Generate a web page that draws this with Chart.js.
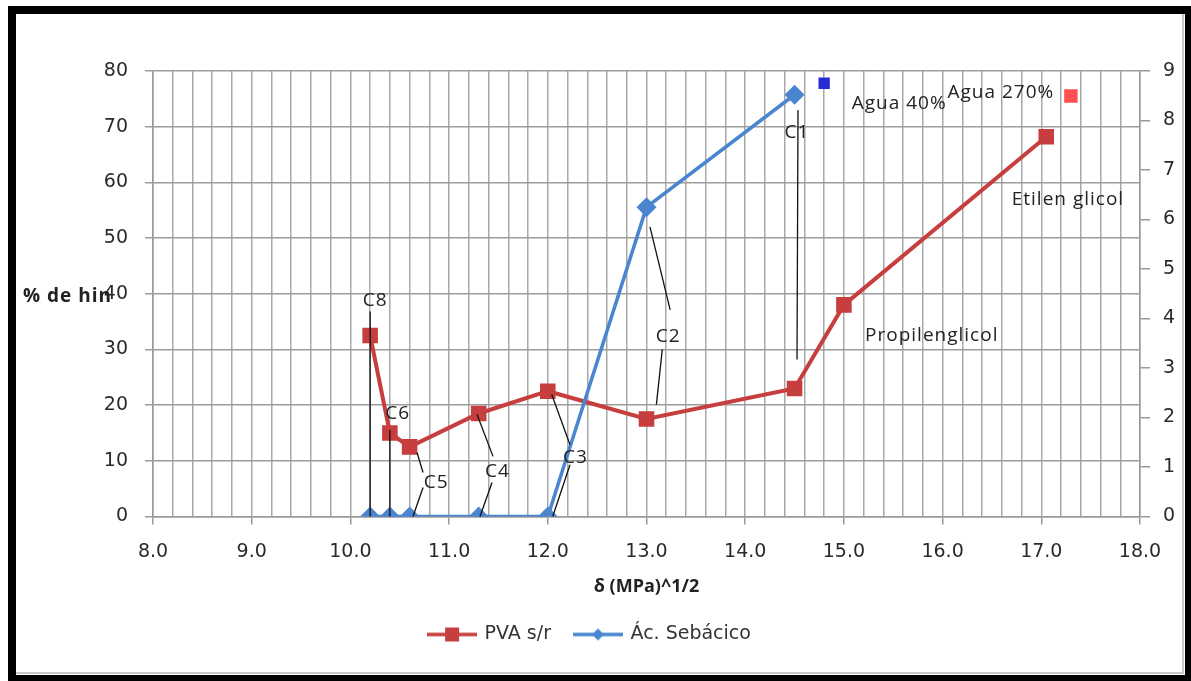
<!DOCTYPE html>
<html>
<head>
<meta charset="utf-8">
<script src="https://cdn.jsdelivr.net/npm/chart.js@4/dist/chart.umd.min.js"></script>
<style>
  html, body { margin: 0; padding: 0; background: #ffffff; }
  #wrap { width: 1191px; height: 681px; position: relative; }
</style>
</head>
<body>
<div id="wrap"><canvas id="chart" width="1191" height="681"></canvas></div>
<script>
// Solubility parameter δ (MPa)^1/2 of each solvent
const deltaPVA = [10.2, 10.4, 10.6, 11.3, 12.0, 13.0, 14.5, 15.0, 17.05];
// Swelling of PVA s/r (%), left axis
const swellPVA = [32.5, 15, 12.5, 18.5, 22.5, 17.5, 23, 38, 68.2];
// Sebacic acid series, right axis
const deltaSeb = [10.2, 10.4, 10.6, 11.3, 12.0, 13.0, 14.5];
const valueSeb = [0, 0, 0, 0, 0, 6.25, 8.52];
// Water points
const deltaWater40 = [14.8];
const swellWater40 = [77.8];
const deltaWater270 = [17.3];
const swellWater270 = [75.5];
// Axis ticks
const xMin = 8, xMax = 18, xMinorStep = 0.2;
const yLeftMax = 80, yLeftStep = 10;
const yRightMax = 9, yRightStep = 1;

const RED = '#C63F3E';
const BLUE = '#4A86CF';
const GRID = '#a8a8a8';

const toPoints = (xs, ys) => xs.map((x, i) => ({ x, y: ys[i] }));
const isMajor = v => Math.abs(v - Math.round(v)) < 1e-6;

// Small line + marker icons for the legend entries
function legendIcon(color, shape) {
  const c = document.createElement('canvas');
  c.width = 50; c.height = 18;
  const g = c.getContext('2d');
  g.strokeStyle = color; g.lineWidth = 3.5;
  g.beginPath(); g.moveTo(0, 9); g.lineTo(50, 9); g.stroke();
  g.fillStyle = color;
  if (shape === 'rect') {
    g.fillRect(18, 2, 14, 14);
  } else {
    g.beginPath(); g.moveTo(25, 3); g.lineTo(31, 9); g.lineTo(25, 15); g.lineTo(19, 9); g.closePath(); g.fill();
  }
  return c;
}
const icons = [legendIcon(RED, 'rect'), legendIcon(BLUE, 'diamond')];

// Solvent labels and their leader lines, in data units of x / left y axis
const notes = [
  { t: 'C8', x: 10.25, y: 38.7 },
  { t: 'C6', x: 10.48, y: 18.4 },
  { t: 'C5', x: 10.87, y: 6.1 },
  { t: 'C4', x: 11.49, y: 8.1 },
  { t: 'C3', x: 12.28, y: 10.6 },
  { t: 'C2', x: 13.22, y: 32.3 },
  { t: 'C1', x: 14.525, y: 68.9 },
  { t: 'Propilenglicol', x: 15.89, y: 32.5 },
  { t: 'Etilen glicol', x: 17.27, y: 56.9 },
  { t: 'Agua 40%', x: 15.56, y: 74.1 },
  { t: 'Agua 270%', x: 16.59, y: 76.2 }
];
const leaders = [
  [10.2, 36.8, 10.2, 0],
  [10.4, 15.6, 10.4, 0],
  [10.675, 11.5, 10.736, 7.9], [10.736, 5.2, 10.634, 0],
  [11.283, 18.3, 11.445, 10.8], [11.435, 6.1, 11.313, 0],
  [12.04, 21.9, 12.225, 12.9], [12.225, 9.3, 12.05, 0],
  [13.035, 52.0, 13.24, 37.1], [13.16, 30.0, 13.1, 20.1],
  [14.535, 73.0, 14.525, 28.2]
];

const notesPlugin = {
  id: 'notes',
  afterDatasetsDraw(chart) {
    const { ctx, scales: { x, y } } = chart;
    ctx.save();
    ctx.strokeStyle = '#111';
    ctx.lineWidth = 1.3;
    leaders.forEach(([x0, y0, x1, y1]) => {
      ctx.beginPath();
      ctx.moveTo(x.getPixelForValue(x0), y.getPixelForValue(y0));
      ctx.lineTo(x.getPixelForValue(x1), y.getPixelForValue(y1));
      ctx.stroke();
    });
    ctx.font = '19px "Open Sans"';
    ctx.letterSpacing = '1px';
    ctx.fillStyle = '#222';
    ctx.textAlign = 'center';
    ctx.textBaseline = 'middle';
    notes.forEach(n => ctx.fillText(n.t, x.getPixelForValue(n.x), y.getPixelForValue(n.y)));
    ctx.restore();
  }
};

const framePlugin = {
  id: 'frame',
  beforeDraw(chart) {
    const { ctx, width, height } = chart;
    ctx.save();
    ctx.fillStyle = '#ffffff';
    ctx.fillRect(0, 0, width, height);
    ctx.restore();
  },
  afterDraw(chart) {
    const { ctx } = chart;
    ctx.save();
    // horizontal y-axis caption on the left
    ctx.font = 'bold 19px "Open Sans"';
    ctx.letterSpacing = '1px';
    ctx.fillStyle = '#222';
    ctx.textAlign = 'left';
    ctx.textBaseline = 'middle';
    ctx.fillText('% de hin', 23, chart.scales.y.getPixelForValue(39.5));
    ctx.letterSpacing = '0px';
    // outer frame
    ctx.strokeStyle = '#c8c8c8';
    ctx.lineWidth = 2;
    ctx.beginPath();
    ctx.moveTo(16, 673); ctx.lineTo(1183, 673); ctx.lineTo(1183, 14);
    ctx.stroke();
    ctx.strokeStyle = '#000';
    ctx.lineWidth = 8;
    ctx.strokeRect(12, 10, 1177, 669);
    ctx.restore();
  }
};

new Chart(document.getElementById('chart'), {
  type: 'scatter',
  data: {
    datasets: [
      {
        label: 'PVA s/r',
        data: toPoints(deltaPVA, swellPVA),
        yAxisID: 'y',
        showLine: true,
        borderColor: RED,
        backgroundColor: RED,
        borderWidth: 4,
        pointStyle: 'rect',
        pointRadius: 11,
        pointBorderWidth: 0,
        order: 2
      },
      {
        label: 'Ác. Sebácico',
        data: toPoints(deltaSeb, valueSeb),
        yAxisID: 'y1',
        showLine: true,
        borderColor: BLUE,
        backgroundColor: BLUE,
        borderWidth: 3.5,
        pointStyle: 'rectRot',
        pointRadius: 10,
        pointBorderWidth: 0,
        order: 1
      },
      {
        label: 'Agua 40%',
        data: toPoints(deltaWater40, swellWater40),
        yAxisID: 'y',
        backgroundColor: '#2B2BD3',
        pointStyle: 'rect',
        pointRadius: 8,
        pointBorderWidth: 0,
        order: 3
      },
      {
        label: 'Agua 270%',
        data: toPoints(deltaWater270, swellWater270),
        yAxisID: 'y',
        backgroundColor: '#FF5050',
        pointStyle: 'rect',
        pointRadius: 9.5,
        pointBorderWidth: 0,
        order: 4
      }
    ]
  },
  options: {
    responsive: false,
    animation: false,
    layout: { padding: { top: 71, left: 0, right: 11, bottom: 27 } },
    plugins: {
      tooltip: { enabled: false },
      legend: {
        position: 'bottom',
        labels: {
          usePointStyle: true,
          pointStyleWidth: 46,
          padding: 24,
          color: '#333',
          font: { family: 'DejaVu Sans', size: 19 },
          filter: item => item.datasetIndex < 2,
          sort: (a, b) => a.datasetIndex - b.datasetIndex,
          generateLabels(chart) {
            const items = Chart.defaults.plugins.legend.labels.generateLabels(chart);
            items.forEach(it => { if (icons[it.datasetIndex]) it.pointStyle = icons[it.datasetIndex]; });
            return items;
          }
        }
      }
    },
    scales: {
      x: {
        type: 'linear',
        position: 'bottom',
        min: xMin,
        max: xMax,
        ticks: {
          stepSize: xMinorStep,
          autoSkip: false,
          maxRotation: 0,
          padding: 16,
          color: '#2a2a2a',
          font: { family: 'DejaVu Sans', size: 19 },
          callback: v => isMajor(v) ? v.toFixed(1) : ''
        },
        grid: {
          color: GRID,
          lineWidth: 1.5,
          tickLength: 8,
          tickColor: c => (c.tick && isMajor(c.tick.value)) ? '#999' : 'rgba(0,0,0,0)'
        },
        border: { color: '#999', width: 1.5 },
        title: {
          display: true,
          text: 'δ (MPa)^1/2',
          color: '#222',
          font: { family: 'Open Sans', size: 18, weight: 'bold' },
          padding: { top: 0, bottom: 3 }
        },
        afterFit: s => { s.height = 84.5; }
      },
      y: {
        position: 'left',
        min: 0,
        max: yLeftMax,
        ticks: {
          stepSize: yLeftStep,
          padding: 17,
          color: '#2a2a2a',
          font: { family: 'DejaVu Sans', size: 19 }
        },
        grid: { color: '#9c9c9c', lineWidth: 1.5, tickLength: 8 },
        border: { color: '#999', width: 1.5 },
        afterFit: s => { s.width = 153; }
      },
      y1: {
        position: 'right',
        min: 0,
        max: yRightMax,
        ticks: {
          stepSize: yRightStep,
          padding: 13,
          color: '#2a2a2a',
          font: { family: 'DejaVu Sans', size: 19 }
        },
        grid: { drawOnChartArea: false, color: '#999', lineWidth: 1.5, tickLength: 10 },
        border: { color: '#999', width: 1.5 },
        afterFit: s => { s.width = 40; }
      }
    }
  },
  plugins: [framePlugin, notesPlugin]
});
</script>
</body>
</html>
